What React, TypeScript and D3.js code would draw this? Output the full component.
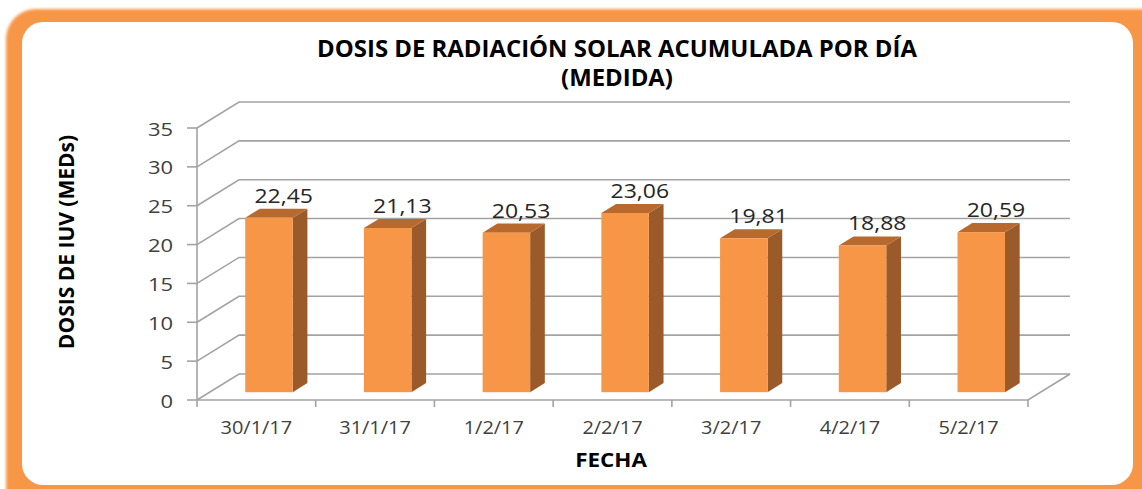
import React, { useRef, useEffect } from 'react';
import * as d3 from 'd3';

// chart data
const dates = ['30/1/17', '31/1/17', '1/2/17', '2/2/17', '3/2/17', '4/2/17', '5/2/17'];
const doses = [22.45, 21.13, 20.53, 23.06, 19.81, 18.88, 20.59];
const yTickValues = [0, 5, 10, 15, 20, 25, 30, 35];
const titleLines = ['DOSIS DE RADIACIÓN SOLAR ACUMULADA POR DÍA', '(MEDIDA)'];
const yAxisTitle = 'DOSIS DE IUV (MEDs)';
const xAxisTitle = 'FECHA';

const WIDTH = 1142;
const HEIGHT = 489;
const plot = { left: 197, right: 1028, top: 128, bottom: 400 };
const depth = { dx: 42, dy: -26 };
const barDepth: [number, number] = [0.3, 0.65];
const FONT = '"Open Sans", "DejaVu Sans", sans-serif';

const esLocale = d3.formatLocale({ decimal: ',', thousands: '.', grouping: [3], currency: ['', ' €'] });
const fmt = esLocale.format('.2f');

type TextOpts = { size: number; weight?: string; sx?: number; anchor?: string; fill?: string; rotate?: number };

// text with a horizontal stretch (the source picture is stretched sideways)
const addText = (parent: any, x: number, y: number, text: string, o: TextOpts) => {
  parent.append('g')
    .attr('transform', `translate(${x},${y}) rotate(${o.rotate || 0}) scale(${o.sx || 1},1)`)
    .append('text')
    .attr('text-anchor', o.anchor || 'middle')
    .attr('font-family', FONT)
    .attr('font-size', o.size)
    .attr('font-weight', o.weight || 'normal')
    .attr('fill', o.fill || '#404040')
    .text(text);
};

const DoseChart: React.FC = () => {
  const svgRef = useRef<SVGSVGElement>(null);

  useEffect(() => {
    if (!svgRef.current) return;
    const svg = d3.select(svgRef.current);
    svg.selectAll('*').remove();

    // frame
    const defs = svg.append('defs');
    defs.append('filter').attr('id', 'soft')
      .attr('x', '-5%').attr('y', '-5%').attr('width', '110%').attr('height', '110%')
      .append('feGaussianBlur').attr('stdDeviation', 1.8);

    svg.append('rect')
      .attr('x', 6).attr('y', 9).attr('width', 1170).attr('height', 510)
      .attr('rx', 30).attr('fill', '#f79646').attr('filter', 'url(#soft)');
    svg.append('rect')
      .attr('x', 22).attr('y', 22).attr('width', 1111).attr('height', 463)
      .attr('rx', 21).attr('fill', '#ffffff');

    const x = d3.scaleBand<string>()
      .domain(dates)
      .range([plot.left, plot.right])
      .paddingInner(0.6)
      .paddingOuter(0.3);

    const y = d3.scaleLinear().domain([0, 35]).range([plot.bottom, plot.top]);

    // walls and gridlines
    const grid = svg.append('g')
      .attr('stroke', '#a3a3a3')
      .attr('stroke-width', 1.6)
      .attr('fill', 'none');

    yTickValues.forEach(v => {
      const yy = y(v);
      grid.append('path')
        .attr('d', `M${plot.left},${yy}L${plot.left + depth.dx},${yy + depth.dy}H${plot.right + depth.dx}`);
      grid.append('path').attr('d', `M${plot.left - 10},${yy}H${plot.left}`);
    });

    grid.append('path')
      .attr('d', `M${plot.left},${plot.bottom}H${plot.right}L${plot.right + depth.dx},${plot.bottom + depth.dy}`);
    grid.append('path').attr('d', `M${plot.left},${plot.top}V${plot.bottom}`);

    d3.range(dates.length + 1).forEach(i => {
      const bx = plot.left + i * x.step();
      grid.append('path').attr('d', `M${bx},${plot.bottom}V${plot.bottom + 7}`);
    });

    // bars
    const bw = x.bandwidth();
    const ddx = (barDepth[1] - barDepth[0]) * depth.dx;
    const ddy = (barDepth[1] - barDepth[0]) * depth.dy;
    const bars = svg.append('g');

    dates.forEach((d, i) => {
      const v = doses[i];
      const x0 = (x(d) || 0) + barDepth[0] * depth.dx;
      const x1 = x0 + bw;
      const yb = y(0) + barDepth[0] * depth.dy;
      const yt = y(v) + barDepth[0] * depth.dy;

      bars.append('path')
        .attr('d', `M${x1},${yt}L${x1 + ddx},${yt + ddy}V${yb + ddy}L${x1},${yb}Z`)
        .attr('fill', '#9b5a2a');
      bars.append('path')
        .attr('d', `M${x0},${yt}L${x0 + ddx},${yt + ddy}H${x1 + ddx}L${x1},${yt}Z`)
        .attr('fill', '#b8692e');
      bars.append('rect')
        .attr('x', x0).attr('y', yt)
        .attr('width', bw).attr('height', yb - yt)
        .attr('fill', '#f79646');

      addText(svg, x0 + bw / 2 + ddx, yt + ddy - 6, fmt(v), { size: 20, sx: 1.15, fill: '#262626' });
    });

    // axis labels
    yTickValues.forEach(v => {
      addText(svg, 173, y(v) + 7.5, String(v), { size: 18, sx: 1.22, anchor: 'end' });
    });
    dates.forEach(d => {
      addText(svg, (x(d) || 0) + bw / 2, 434, d, { size: 19, sx: 1.05 });
    });

    // titles
    addText(svg, 617, 57, titleLines[0], { size: 23, weight: 'bold', sx: 1.04, fill: '#000' });
    addText(svg, 617, 86, titleLines[1], { size: 23, weight: 'bold', sx: 1.04, fill: '#000' });
    addText(svg, 74, 242, yAxisTitle, { size: 21, weight: 'bold', sx: 1.0, fill: '#000', rotate: -90 });
    addText(svg, 611, 467, xAxisTitle, { size: 19, weight: 'bold', sx: 1.18, fill: '#000' });
  }, []);

  return (
    <svg
      ref={svgRef}
      width={WIDTH}
      height={HEIGHT}
      style={{ position: 'absolute', left: 0, top: 0, display: 'block' }}
    />
  );
};

export default function App() {
  return <DoseChart />;
}
